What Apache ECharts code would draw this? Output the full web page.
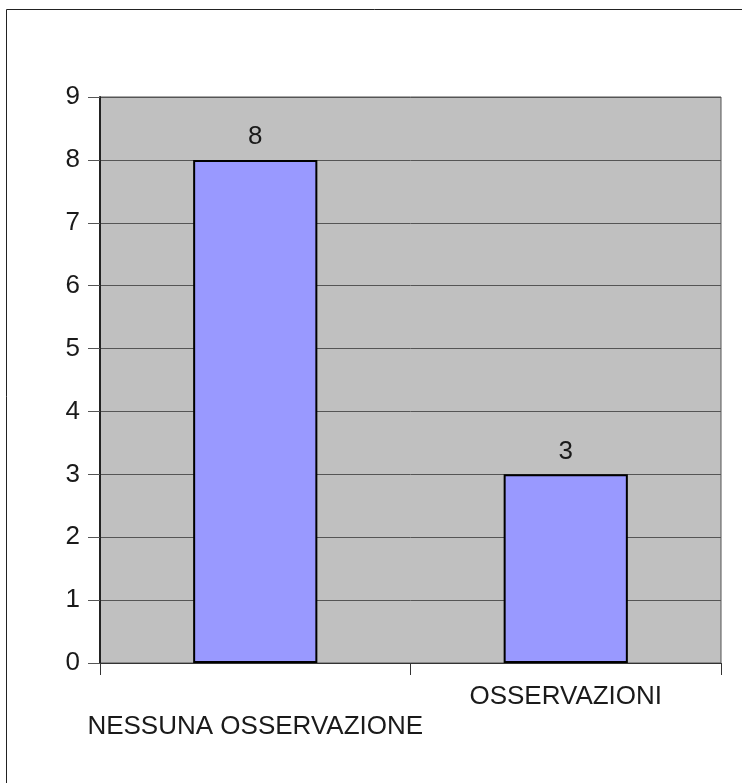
<!DOCTYPE html>
<html>
<head>
<meta charset="utf-8">
<script src="https://cdn.jsdelivr.net/npm/echarts@6/dist/echarts.min.js"></script>
<style>
  html, body { margin: 0; padding: 0; background: #fff; }
  #chart { width: 742px; height: 783px; }
</style>
</head>
<body>
<div id="chart"></div>
<script>
const categories = ['NESSUNA OSSERVAZIONE', 'OSSERVAZIONI'];
const counts = [8, 3];
const yTicks = [0, 1, 2, 3, 4, 5, 6, 7, 8, 9];

const chart = echarts.init(document.getElementById('chart'));
const font = 'Liberation Sans, Arial, sans-serif';
const ink = '#1a1a1a';

chart.setOption({
  animation: false,
  textStyle: { fontFamily: font },
  grid: {
    left: 100, top: 97, width: 621, height: 566,
    show: true,
    backgroundColor: '#c0c0c0',
    borderColor: '#555',
    borderWidth: 1
  },
  graphic: [
    // outer frame (only top and left edges are inside the picture)
    { type: 'rect', shape: { x: 6.5, y: 9.5, width: 800, height: 800 },
      style: { fill: null, stroke: '#222', lineWidth: 1 }, silent: true }
  ],
  xAxis: {
    type: 'category',
    data: categories,
    axisLine: { show: true, lineStyle: { color: '#333', width: 1 } },
    axisTick: { show: true, length: 12, lineStyle: { color: '#333' } },
    axisLabel: {
      margin: 21,
      interval: 0,
      color: ink,
      fontSize: 26,
      formatter: (v, i) => i === 0 ? '{low|' + v + '}' : '{high|' + v + '}',
      rich: {
        low: { fontSize: 26, color: ink, padding: [30, 0, 0, 0] },
        high: { fontSize: 26, color: ink }
      }
    }
  },
  yAxis: {
    type: 'value',
    min: 0,
    max: yTicks[yTicks.length - 1],
    interval: 1,
    axisLine: { show: true, lineStyle: { color: '#222', width: 2 } },
    axisTick: { show: true, length: 12, lineStyle: { color: '#555' } },
    axisLabel: { margin: 20, color: ink, fontSize: 26 },
    splitLine: { show: true, lineStyle: { color: '#555', width: 1 } }
  },
  series: [{
    type: 'bar',
    data: counts,
    barWidth: '40%',
    itemStyle: { color: '#9999ff', borderColor: '#000', borderWidth: 2 },
    label: { show: true, position: 'top', distance: 10, color: ink, fontSize: 26 }
  }]
});
</script>
</body>
</html>
